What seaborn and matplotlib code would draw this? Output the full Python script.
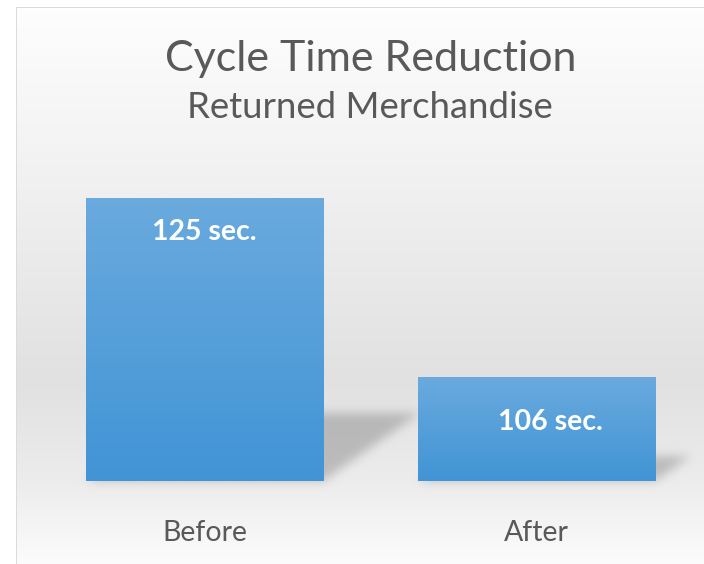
import numpy as np
import pandas as pd
import matplotlib
matplotlib.use("Agg")
import matplotlib.pyplot as plt
from matplotlib.colors import LinearSegmentedColormap
import seaborn as sns

# ---- data ----
categories = ["Before", "After"]
values = [125, 106]
value_labels = ["125 sec.", "106 sec."]
title = "Cycle Time Reduction"
subtitle = "Returned Merchandise"

W, H = 704, 564
PX = 0.72  # points per pixel at dpi 100

sns.set_theme(style="white")
plt.rcParams['font.family'] = ['Lato', 'DejaVu Sans']

fig = plt.figure(figsize=(W / 100, H / 100), dpi=100)
bg = fig.add_axes([0, 0, 1, 1], zorder=0)
bg.set_axis_off()

ax = fig.add_axes([38.5 / W, 83 / H, 664 / W, 329.7 / H], zorder=1)
ax.patch.set_alpha(0)
df = pd.DataFrame({"stage": categories, "seconds": values})
sns.barplot(data=df, x="stage", y="seconds", ax=ax, width=0.714,
            color="#549fd8", saturation=1, zorder=3, linewidth=0)
ymin, ymax = 95, 130
ax.set_ylim(ymin, ymax)
ax.set_xlim(-0.5, 1.5)
for s in ax.spines.values():
    s.set_visible(False)
ax.set_yticks([])
ax.set_xlabel("")
ax.set_ylabel("")
ax.tick_params(axis="x", length=0, pad=37.5, labelsize=20.5, labelcolor="#595959")
for lbl in ax.get_xticklabels():
    lbl.set_va("center")

# ---- gradient fill on bars ----
bar_cmap = LinearSegmentedColormap.from_list("bar", ["#6aaade", "#4194d5"])
grad = np.linspace(0, 1, 256)[:, None]
for p in ax.patches:
    x0, w, top = p.get_x(), p.get_width(), p.get_height()
    im = ax.imshow(grad, extent=[x0, x0 + w, ymin, top], cmap=bar_cmap,
                   aspect="auto", zorder=4, origin="upper")
    im.set_clip_path(p)
ax.set_xlim(-0.5, 1.5)
ax.set_ylim(ymin, ymax)

# ---- value labels ----
label_offsets = [(0, -42), (14, -53)]  # px from bar top to baseline
for i, (v, txt) in enumerate(zip(values, value_labels)):
    dx, dy = label_offsets[i]
    ax.annotate(txt, xy=(i, v), xytext=(dx * PX, dy * PX), textcoords="offset points",
                ha="center", va="baseline", color="white", fontsize=20.5,
                fontweight="bold", zorder=6)

# ---- background with gradient, frame and soft shadows ----
fig.canvas.draw()
ys = np.arange(H)
col = np.interp(ys, [0, 150, 380, 480, 564], [254, 243, 225, 236, 252]) / 255.0
img = np.repeat(col[:, None], W, axis=1)

mask = np.zeros((H, W))
for p in ax.patches:
    x0, w, top = p.get_x(), p.get_width(), p.get_height()
    (pxl, pyb), = ax.transData.transform([(x0, ymin)])
    (pxr, pyt), = ax.transData.transform([(x0 + w, top)])
    yb = H - pyb
    h = pyt - pyb
    s, d = 0.24 * h, 0.34 * h
    for y in range(int(yb - s), int(yb)):
        t = (yb - y) / s
        xa, xb = int(pxl + d * t), int(pxr + d * t)
        mask[y, max(xa, 0):min(xb, W)] = 1.0

# gaussian blur
sig = 5
k = np.arange(-3 * sig, 3 * sig + 1)
kern = np.exp(-k ** 2 / (2 * sig ** 2))
kern /= kern.sum()
mask = np.apply_along_axis(lambda r: np.convolve(r, kern, mode="same"), 1, mask)
mask = np.apply_along_axis(lambda c: np.convolve(c, kern, mode="same"), 0, mask)
img = img * (1 - 0.2 * mask)

# frame
img[:7, :] = 1.0
img[:, :16] = 1.0
img[7, 16:] = 0.86
img[7:, 16] = 0.86

bg.imshow(np.dstack([img] * 3), extent=[0, W, 0, H], aspect="auto",
          interpolation="nearest", origin="upper")
bg.set_xlim(0, W)
bg.set_ylim(0, H)

# ---- titles ----
fig.text(370.5 / W, 1 - 71 / H, title, ha="center", va="baseline",
         fontsize=31, color="#595959")
fig.text(370 / W, 1 - 118 / H, subtitle, ha="center", va="baseline",
         fontsize=26.3, color="#595959")

fig.savefig("out.png", dpi=100)
